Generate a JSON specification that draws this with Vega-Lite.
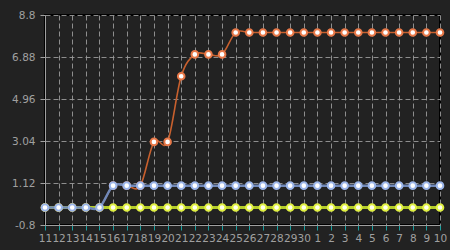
{
  "$schema": "https://vega.github.io/schema/vega-lite/v6.json",
  "width": 395,
  "height": 210,
  "autosize": {"type": "none"},
  "padding": {"left": 45, "top": 15, "right": 10, "bottom": 25},
  "background": "#222222",
  "config": {
    "view": {"stroke": "#000000", "strokeWidth": 2},
    "axis": {
      "labelFont": "DejaVu Sans",
      "labelFontSize": 10.5,
      "labelColor": "#a0a0a0",
      "domainColor": "#a0a0a0",
      "tickColor": "#a0a0a0",
      "tickSize": 5,
      "gridColor": "#9a9a9a",
      "gridDash": [5, 3],
      "gridWidth": 1,
      "gridOpacity": 0.9,
      "title": null
    }
  },
  "data": {
    "values": [
      {"day": "11", "orange": 0, "blue": 0, "yellow": 0},
      {"day": "12", "orange": 0, "blue": 0, "yellow": 0},
      {"day": "13", "orange": 0, "blue": 0, "yellow": 0},
      {"day": "14", "orange": 0, "blue": 0, "yellow": 0},
      {"day": "15", "orange": 0, "blue": 0, "yellow": 0},
      {"day": "16", "orange": 1, "blue": 1, "yellow": 0},
      {"day": "17", "orange": 1, "blue": 1, "yellow": 0},
      {"day": "18", "orange": 1, "blue": 1, "yellow": 0},
      {"day": "19", "orange": 3, "blue": 1, "yellow": 0},
      {"day": "20", "orange": 3, "blue": 1, "yellow": 0},
      {"day": "21", "orange": 6, "blue": 1, "yellow": 0},
      {"day": "22", "orange": 7, "blue": 1, "yellow": 0},
      {"day": "23", "orange": 7, "blue": 1, "yellow": 0},
      {"day": "24", "orange": 7, "blue": 1, "yellow": 0},
      {"day": "25", "orange": 8, "blue": 1, "yellow": 0},
      {"day": "26", "orange": 8, "blue": 1, "yellow": 0},
      {"day": "27", "orange": 8, "blue": 1, "yellow": 0},
      {"day": "28", "orange": 8, "blue": 1, "yellow": 0},
      {"day": "29", "orange": 8, "blue": 1, "yellow": 0},
      {"day": "30", "orange": 8, "blue": 1, "yellow": 0},
      {"day": "1", "orange": 8, "blue": 1, "yellow": 0},
      {"day": "2", "orange": 8, "blue": 1, "yellow": 0},
      {"day": "3", "orange": 8, "blue": 1, "yellow": 0},
      {"day": "4", "orange": 8, "blue": 1, "yellow": 0},
      {"day": "5", "orange": 8, "blue": 1, "yellow": 0},
      {"day": "6", "orange": 8, "blue": 1, "yellow": 0},
      {"day": "7", "orange": 8, "blue": 1, "yellow": 0},
      {"day": "8", "orange": 8, "blue": 1, "yellow": 0},
      {"day": "9", "orange": 8, "blue": 1, "yellow": 0},
      {"day": "10", "orange": 8, "blue": 1, "yellow": 0}
    ]
  },
  "encoding": {
    "x": {
      "field": "day",
      "type": "ordinal",
      "sort": ["11","12","13","14","15","16","17","18","19","20","21","22","23","24","25","26","27","28","29","30","1","2","3","4","5","6","7","8","9","10"],
      "scale": {"type": "point", "padding": 0},
      "axis": {
        "labelAngle": 0,
        "labelOverlap": false,
        "labelPadding": 3,
        "tickColor": "#1aa0a0",
        "grid": true
      }
    }
  },
  "layer": [
    {
      "mark": {"type": "line", "interpolate": "cardinal", "color": "#c8602e", "strokeWidth": 1.6},
      "encoding": {
        "y": {
          "field": "orange",
          "type": "quantitative",
          "scale": {"domain": [-0.8, 8.8], "nice": false, "zero": false},
          "axis": {
            "values": [-0.8, 1.12, 3.04, 4.96, 6.88, 8.8],
            "labelExpr": "'' + datum.value",
            "labelPadding": 5,
            "grid": true
          }
        }
      }
    },
    {
      "mark": {"type": "point", "filled": true, "fill": "#ffffff", "stroke": "#e87848", "strokeWidth": 2, "size": 44, "opacity": 1},
      "encoding": {"y": {"field": "orange", "type": "quantitative"}}
    },
    {
      "mark": {"type": "line", "interpolate": "cardinal", "color": "#b4cc2a", "strokeWidth": 3},
      "encoding": {"y": {"field": "yellow", "type": "quantitative"}}
    },
    {
      "mark": {"type": "point", "filled": true, "fill": "#ffffee", "stroke": "#e0f040", "strokeWidth": 2, "size": 44, "opacity": 1},
      "encoding": {"y": {"field": "yellow", "type": "quantitative"}}
    },
    {
      "mark": {"type": "line", "interpolate": "cardinal", "color": "#7088b8", "strokeWidth": 2.5},
      "encoding": {"y": {"field": "blue", "type": "quantitative"}}
    },
    {
      "mark": {"type": "point", "filled": true, "fill": "#ffffff", "stroke": "#9ab4e8", "strokeWidth": 2, "size": 44, "opacity": 1},
      "encoding": {"y": {"field": "blue", "type": "quantitative"}}
    }
  ]
}
